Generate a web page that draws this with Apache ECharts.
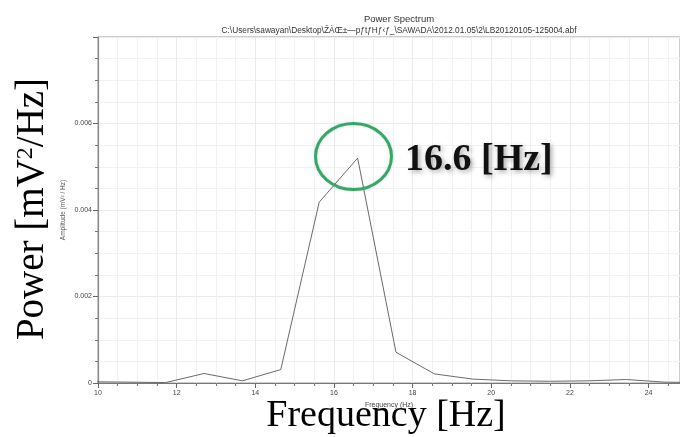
<!DOCTYPE html>
<html>
<head>
<meta charset="utf-8">
<script src="https://cdn.jsdelivr.net/npm/echarts@6/dist/echarts.min.js"></script>
<style>html,body{margin:0;padding:0;background:#fff}#c{width:680px;height:437px}</style>
</head>
<body>
<div id="c"></div>
<script>
// Frequency bins (Hz) and power amplitude (mV^2/Hz)
const freqs = [9.766, 10.742, 11.719, 12.695, 13.672, 14.648, 15.625, 16.602, 17.578, 18.555, 19.531, 20.508, 21.484, 22.461, 23.438, 24.414, 25.391];
const amps  = [0.00003, 0.00002, 0.00001, 0.00022, 0.00005, 0.00031, 0.00418, 0.00520, 0.00071, 0.00021, 0.00009, 0.00005, 0.00004, 0.00005, 0.00008, 0.00002, 0.00001];
const xTicks = [10, 12, 14, 16, 18, 20, 22, 24];
const yTicks = [0, 0.002, 0.004, 0.006];
const titleText = 'Power Spectrum';
const pathText = 'C:\\Users\\sawayan\\Desktop\\ŽÀŒ±—pƒtƒHƒ‹ƒ_\\SAWADA\\2012.01.05\\2\\LB20120105-125004.abf';
const peakLabel = '16.6 [Hz]';

const chart = echarts.init(document.getElementById('c'), null, {renderer: 'canvas'});
const pts = freqs.map((f, i) => [f, amps[i]]);

chart.setOption({
  backgroundColor: '#fff',
  animation: false,
  title: [
    {text: titleText, left: 394, top: 9, textAlign: 'center',
     textStyle: {fontFamily: 'Liberation Sans', fontSize: 9.5, fontWeight: 'normal', color: '#333'}},
    {text: pathText, left: 394, top: 22, textAlign: 'center',
     textStyle: {fontFamily: 'Liberation Sans', fontSize: 8.3, fontWeight: 'normal', color: '#333'}}
  ],
  grid: {left: 98, right: 0, top: 37, bottom: 54, show: true, borderColor: '#9a9a9a', borderWidth: 1, backgroundColor: 'transparent'},
  xAxis: {
    type: 'value', min: 10, max: 24.8, interval: 2,
    name: 'Frequency (Hz)', nameLocation: 'middle', nameGap: 19, nameMoveOverlap: false,
    nameTextStyle: {fontFamily: 'Liberation Sans', fontSize: 7, color: '#444', padding: [0, 0, 0, 0]},
    axisLine: {lineStyle: {color: '#777', width: 1.2}},
    axisTick: {show: true, inside: false, length: 5, lineStyle: {color: '#666'}},
    minorTick: {show: true, splitNumber: 4, length: 3, lineStyle: {color: '#777'}},
    axisLabel: {fontFamily: 'Liberation Sans', fontSize: 7, color: '#444', margin: 7, showMaxLabel: false,
      formatter: v => xTicks.includes(v) ? String(v) : ''},
    splitLine: {show: true, lineStyle: {color: '#ebebeb', width: 1}},
    minorSplitLine: {show: true, lineStyle: {color: '#f2f2f2', width: 1}}
  },
  yAxis: {
    type: 'value', min: 0, max: 0.008, interval: 0.002,
    name: 'Amplitude (mV² / Hz)', nameLocation: 'middle', nameGap: 31, nameRotate: 90, nameMoveOverlap: false,
    nameTextStyle: {fontFamily: 'Liberation Sans', fontSize: 6.5, color: '#555'},
    axisLine: {show: true, lineStyle: {color: '#888', width: 1.2}},
    axisTick: {show: true, inside: false, length: 5, lineStyle: {color: '#666'}},
    minorTick: {show: true, splitNumber: 4, length: 3, lineStyle: {color: '#777'}},
    axisLabel: {fontFamily: 'Liberation Sans', fontSize: 7, color: '#444', margin: 6, showMaxLabel: false,
      formatter: v => yTicks.some(t => Math.abs(t - v) < 1e-9) ? (v === 0 ? '0' : v.toFixed(3)) : ''},
    splitLine: {show: true, lineStyle: {color: '#ebebeb', width: 1}},
    minorSplitLine: {show: true, lineStyle: {color: '#f2f2f2', width: 1}}
  },
  series: [{
    type: 'line', data: pts, showSymbol: false, symbol: 'none', clip: true,
    lineStyle: {color: '#6a6a6a', width: 1}
  }],
  graphic: [
    {type: 'ellipse', shape: {cx: 353.5, cy: 156.5, rx: 38, ry: 33},
     style: {fill: 'none', stroke: '#34a866', lineWidth: 3, shadowBlur: 3, shadowColor: 'rgba(0,0,0,0.15)'}, z: 100},
    {type: 'text', x: 405, y: 160, z: 100,
     style: {text: peakLabel, font: 'bold 38px "Liberation Serif"', fill: '#111', verticalAlign: 'middle',
       textShadowBlur: 5, textShadowColor: 'rgba(0,0,0,0.35)', textShadowOffsetX: 2, textShadowOffsetY: 2}},
    {type: 'text', x: 386, y: 416, z: 100,
     style: {text: 'Frequency [Hz]', font: '38px "Liberation Serif"', fill: '#000', align: 'center', verticalAlign: 'middle'}},
    {type: 'text', x: 33, y: 209, rotation: Math.PI / 2, z: 100,
     style: {text: '{a|Power [mV}{s|2}{a|/Hz]}', align: 'center', verticalAlign: 'middle',
       rich: {a: {fontFamily: 'Liberation Serif', fontSize: 39, fill: '#000', color: '#000'},
              s: {fontFamily: 'Liberation Serif', fontSize: 24, color: '#000', verticalAlign: 'top', padding: [0, 0, 14, 0]}}}}
  ]
});
</script>
</body>
</html>
